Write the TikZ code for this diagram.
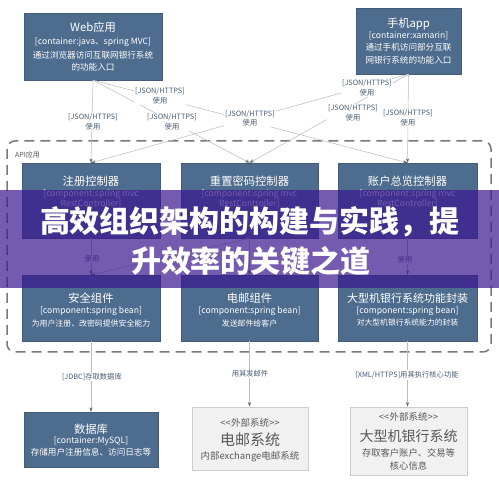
\documentclass[tikz,border=0pt]{standalone}
\usepackage{fontspec}
\setmainfont{Noto Sans CJK SC}
\newfontfamily\blackf{Noto Sans CJK SC Black}
\usetikzlibrary{arrows.meta}
\definecolor{boxblue}{RGB}{78,108,142}
\definecolor{lbl}{RGB}{72,92,118}
\definecolor{lnc}{RGB}{190,190,190}
\definecolor{tipc}{RGB}{95,105,120}
\definecolor{extfill}{RGB}{241,241,241}
\definecolor{extdraw}{RGB}{205,205,205}
\definecolor{exttext}{RGB}{88,88,88}
\definecolor{band}{RGB}{58,22,142}
\definecolor{bnd}{RGB}{120,120,120}
\begin{document}
\begin{tikzpicture}[x=1pt,y=-1pt,
  box/.style={fill=boxblue, draw=boxblue!85!black, line width=0.3pt, inner sep=0pt},
  ext/.style={fill=extfill, draw=extdraw, line width=0.7pt, inner sep=0pt},
  ttl/.style={text=white, font=\fontsize{11.3}{13}\selectfont, inner sep=0pt},
  sub/.style={text=white, font=\fontsize{8.6}{10}\selectfont, inner sep=0pt},
  dsc/.style={text=white, font=\fontsize{8.2}{10}\selectfont, inner sep=0pt},
  etx/.style={text=exttext, inner sep=0pt},
  lab/.style={text=lbl, font=\fontsize{7.3}{9.5}\selectfont, fill=white, inner sep=0.8pt, align=center},
  rel/.style={draw=lnc, line width=0.55pt, -{Stealth[length=4.5pt,width=3.2pt,color=tipc]}},
  bigtitle/.style={text=white, font=\fontsize{30}{36}\selectfont\blackf, inner sep=0pt},
]
\useasboundingbox (0,0) rectangle (499,481);
\fill[white] (0,0) rectangle (499,481);

% boundary
\draw[bnd, line width=1.5pt, dash pattern=on 10pt off 6pt, rounded corners=8pt] (7,141) rectangle (491,352);
\node[anchor=west, text=exttext, font=\fontsize{7}{8}\selectfont, inner sep=0pt] (api) at (15,155) {API应用};

% containers
\node[box, minimum width=138pt, minimum height=67pt] (web) at (93,46.5) {};
\node[box, minimum width=105pt, minimum height=66pt] (mob) at (408.5,41) {};
\node[box, minimum width=138pt, minimum height=75pt] (c1) at (91,200.5) {};
\node[box, minimum width=137pt, minimum height=75pt] (c2) at (249.5,200.5) {};
\node[box, minimum width=139pt, minimum height=75pt] (c3) at (407.5,200.5) {};
\node[box, minimum width=138pt, minimum height=66pt] (k1) at (91,308) {};
\node[box, minimum width=137pt, minimum height=66pt] (k2) at (249.5,308) {};
\node[box, minimum width=139pt, minimum height=66pt] (k3) at (407.5,308) {};
\node[box, minimum width=134pt, minimum height=55pt] (db) at (91,439.5) {};
\node[ext, minimum width=116pt, minimum height=63pt] (mail) at (250,438.5) {};
\node[ext, minimum width=117pt, minimum height=68pt] (mf) at (408.5,441) {};

% texts
\node[ttl] (webt) at (93,27) {Web应用};
\node[sub] (webs) at (93,42) {[container:java、spring MVC]};
\node[sub] (webd1) at (93,55) {通过浏览器访问互联网银行系统};
\node[sub] (webd2) at (93,67) {的功能入口};

\node[ttl] (mobt) at (408.5,24) {手机app};
\node[sub] (mobs) at (408.5,35.5) {[container:xamarin]};
\node[sub] (mobd1) at (408.5,47.5) {通过手机访问部分互联};
\node[sub] (mobd2) at (408.5,60) {网银行系统的功能入口};

\node[ttl] (c1t) at (91,181.5) {注册控制器};
\node[sub] (c1s) at (91,194) {[component:spring mvc};
\node[sub] (c1r) at (91,203.5) {RestController]};
\node[ttl] (c2t) at (249.5,181.5) {重置密码控制器};
\node[sub] (c2s) at (249.5,194) {[component:spring mvc};
\node[sub] (c2r) at (249.5,203.5) {RestController]};
\node[ttl] (c3t) at (407.5,181.5) {账户总览控制器};
\node[sub] (c3s) at (407.5,194) {[component:spring mvc};
\node[sub] (c3r) at (407.5,203.5) {RestController]};

\node[ttl] (k1t) at (91,298) {安全组件};
\node[sub] (k1s) at (91,311.5) {[component:spring bean]};
\node[dsc, font=\fontsize{7.9}{9}\selectfont] (k1d) at (91,323) {为用户注册、改密码提供安全能力};
\node[ttl] (k2t) at (249.5,298) {电邮组件};
\node[sub] (k2s) at (249.5,311.5) {[component:spring bean]};
\node[dsc, font=\fontsize{7.9}{9}\selectfont] (k2d) at (249.5,323) {发送邮件给客户};
\node[ttl, font=\fontsize{11}{13}\selectfont] (k3t) at (407.5,298) {大型机银行系统功能封装};
\node[sub] (k3s) at (407.5,311.5) {[component:spring bean]};
\node[dsc, font=\fontsize{7.8}{9}\selectfont] (k3d) at (407.5,323) {对大型机银行系统能力的封装};

\node[ttl] (dbt) at (91,429) {数据库};
\node[sub] (dbs) at (91,441) {[container:MySQL]};
\node[sub] (dbd) at (91,452.5) {存储用户注册信息、访问日志等};

\node[etx, font=\fontsize{9.5}{11}\selectfont] (mailx) at (250,423) {<\kern0pt<外部系统>\kern0pt>};
\node[etx, font=\fontsize{15}{17}\selectfont] (mailt) at (250,439.5) {电邮系统};
\node[etx, font=\fontsize{9.5}{11}\selectfont] (maild) at (250,457) {内部exchange电邮系统};

\node[etx, font=\fontsize{9.5}{11}\selectfont] (mfx) at (408.5,417) {<\kern0pt<外部系统>\kern0pt>};
\node[etx, font=\fontsize{14}{16}\selectfont] (mft) at (408.5,436) {大型机银行系统};
\node[etx, font=\fontsize{9.3}{11}\selectfont] (mfd1) at (408.5,452.5) {存取客户账户、交易等};
\node[etx, font=\fontsize{9.3}{11}\selectfont] (mfd2) at (408.5,466) {核心信息};

% connectors
\draw[rel] (web.south) -- (c1.north);
\draw[rel] (web.south) -- (c2.north);
\draw[rel] (web.south) -- (c3.north);
\draw[rel] (mob.south) -- (c1.north);
\draw[rel] (mob.south) -- (c2.north);
\draw[rel] (mob.south) -- (c3.north);
\draw[rel] (c1.south) -- (k1.north);
\draw[rel] (c2.south) -- (k1.north);
\draw[rel] (c2.south) -- (k2.north);
\draw[rel] (c3.south) -- (k3.north);
\draw[rel] (k1.south) -- (db.north);
\draw[rel] (k2.south) -- (k2.south |- mail.north);
\draw[rel] (k3.south) -- (k3.south |- mf.north);

% labels
\node[lab] (l1) at (93,122) {[JSON/HTTPS]\\使用};
\node[lab] (l2) at (172,122) {[JSON/HTTPS]\\使用};
\node[lab] (l3) at (160,96) {[JSON/HTTPS]\\使用};
\node[lab] (l4) at (250,118.5) {[JSON/HTTPS]\\使用};
\node[lab] (l5) at (367,88) {[JSON/HTTPS]\\使用};
\node[lab] (l6) at (353,113) {[JSON/HTTPS]\\使用};
\node[lab] (l7) at (408,118) {[JSON/HTTPS]\\使用};
\node[lab] (m1) at (92,259) {使用};
\node[lab] (m3) at (405,260) {使用};
\node[lab] (b1) at (92,377) {[JDBC]存取数据库};
\node[lab] (b2) at (250,374) {用其发邮件};
\node[lab] (b3) at (407,375) {[XML/HTTPS]用其执行核心功能};

% overlay banner
\fill[band, opacity=0.7] (0,190) rectangle (499,288);
\node[bigtitle] (t1) at (250,221.5) {高效组织架构的构建与实践，提};
\node[bigtitle] (t2) at (251,261.5) {升效率的关键之道};
\end{tikzpicture}
\end{document}
